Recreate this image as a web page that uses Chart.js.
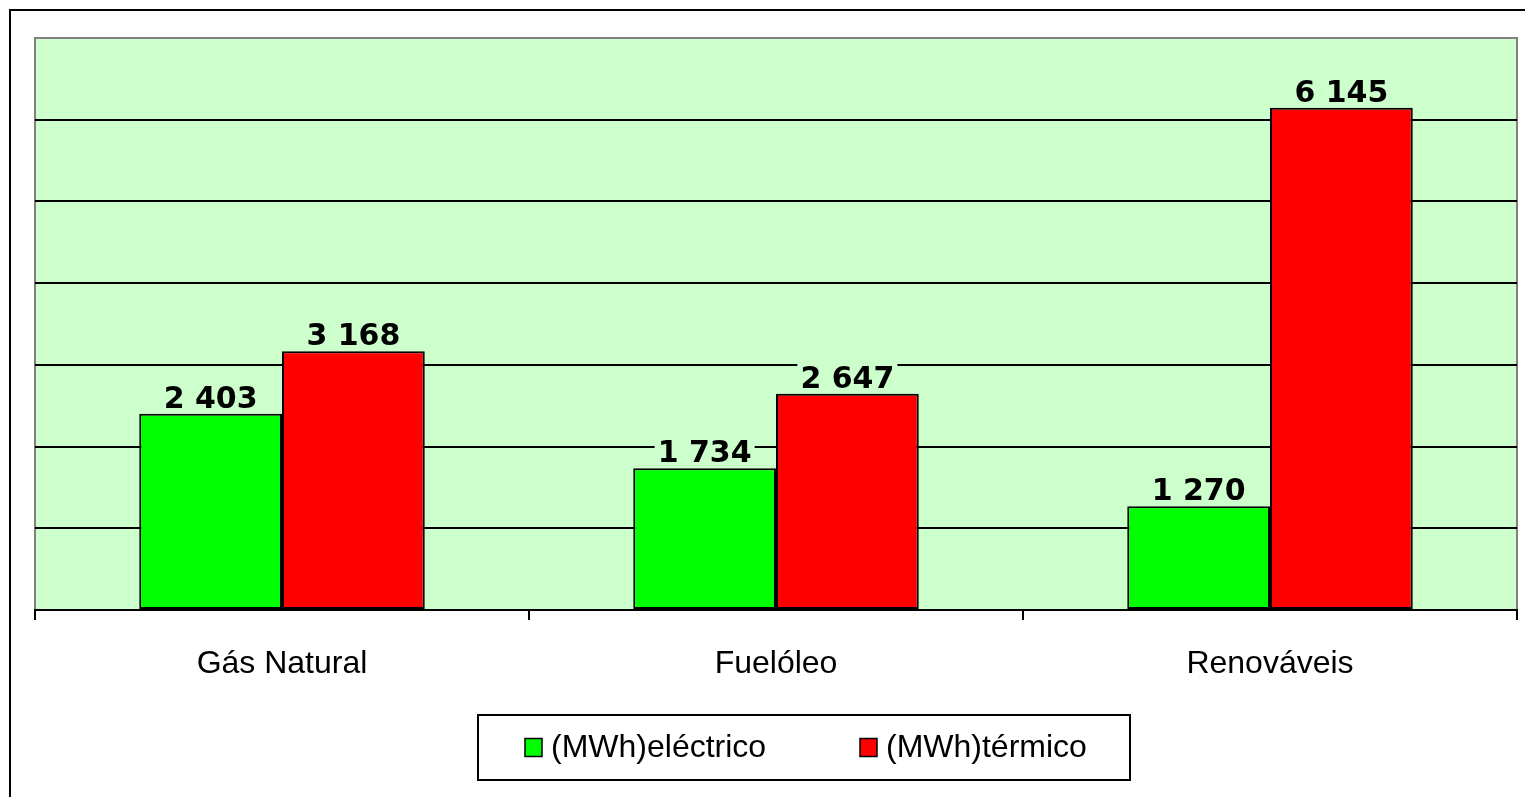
<!DOCTYPE html>
<html>
<head>
<meta charset="utf-8">
<script src="https://cdn.jsdelivr.net/npm/chart.js@4/dist/chart.umd.min.js"></script>
<style>
  html, body { margin: 0; padding: 0; background: #fff; }
  canvas { display: block; }
</style>
</head>
<body>
<canvas id="energyChart" width="1525" height="797"></canvas>
<script>
const categories = ['Gás Natural', 'Fuelóleo', 'Renováveis'];
const electrico = [2403, 1734, 1270];
const termico = [3168, 2647, 6145];
const seriesNames = ['(MWh)eléctrico', '(MWh)térmico'];

const PLOT_BG = '#CCFFCC';

// thousands with a space: 6145 -> "6 145"
const fmt = v => String(v).replace(/\B(?=(\d{3})+(?!\d))/g, ' ');

// outer frame + plot background
const frame = {
    id: 'frame',
    beforeDraw(chart) {
        const { ctx, chartArea: a } = chart;
        ctx.save();
        ctx.fillStyle = '#fff';
        ctx.fillRect(0, 0, chart.width, chart.height);
        ctx.strokeStyle = '#000';
        ctx.lineWidth = 2;
        ctx.strokeRect(10, 10, chart.width + 20, chart.height + 20);
        ctx.fillStyle = PLOT_BG;
        ctx.fillRect(a.left, a.top, a.right - a.left, a.bottom - a.top);
        ctx.strokeStyle = '#808080';
        ctx.lineWidth = 2;
        ctx.strokeRect(a.left, a.top, a.right - a.left, a.bottom - a.top);
        ctx.restore();
    }
};

// value labels above each bar, on a patch of plot colour so grid lines stop at the text
const valueLabels = {
    id: 'valueLabels',
    afterDatasetsDraw(chart) {
        const ctx = chart.ctx;
        ctx.save();
        ctx.font = 'bold 30px "DejaVu Sans"';
        ctx.textAlign = 'center';
        ctx.textBaseline = 'alphabetic';
        chart.data.datasets.forEach((ds, i) => {
            chart.getDatasetMeta(i).data.forEach((bar, j) => {
                const txt = fmt(ds.data[j]);
                const w = ctx.measureText(txt).width;
                const base = bar.y - 6;
                ctx.fillStyle = PLOT_BG;
                ctx.fillRect(bar.x - w / 2 - 3, base - 26, w + 6, 30);
                ctx.fillStyle = '#000';
                ctx.fillText(txt, bar.x, base);
            });
        });
        ctx.restore();
    }
};

// boxed legend under the axis
const boxLegend = {
    id: 'boxLegend',
    afterDraw(chart) {
        const ctx = chart.ctx;
        const box = { x: 478, y: 715, w: 652, h: 65 };
        const offsets = [47, 382];
        ctx.save();
        ctx.fillStyle = '#fff';
        ctx.fillRect(box.x, box.y, box.w, box.h);
        ctx.strokeStyle = '#000';
        ctx.lineWidth = 2;
        ctx.strokeRect(box.x, box.y, box.w, box.h);
        ctx.font = '32px "Liberation Sans"';
        ctx.textBaseline = 'middle';
        ctx.textAlign = 'left';
        const cy = box.y + box.h / 2;
        chart.data.datasets.forEach((ds, i) => {
            const x = box.x + offsets[i];
            ctx.fillStyle = ds.backgroundColor;
            ctx.fillRect(x, cy - 9, 17, 18);
            ctx.lineWidth = 1.5;
            ctx.strokeStyle = '#000';
            ctx.strokeRect(x, cy - 9, 17, 18);
            ctx.fillStyle = '#000';
            ctx.fillText(ds.label, x + 26, cy + 1);
        });
        ctx.restore();
    }
};

new Chart(document.getElementById('energyChart').getContext('2d'), {
    type: 'bar',
    data: {
        labels: categories,
        datasets: [{
            label: seriesNames[0],
            data: electrico,
            backgroundColor: '#00FF00',
            borderColor: '#000',
            borderWidth: 2,
            borderSkipped: false
        }, {
            label: seriesNames[1],
            data: termico,
            backgroundColor: '#FF0000',
            borderColor: '#000',
            borderWidth: 2,
            borderSkipped: false
        }]
    },
    options: {
        responsive: false,
        animation: false,
        devicePixelRatio: 1,
        layout: { padding: { left: 35, right: 8, top: 38, bottom: 0 } },
        datasets: { bar: { categoryPercentage: 0.578, barPercentage: 1 } },
        plugins: {
            legend: { display: false },
            tooltip: { enabled: false }
        },
        scales: {
            x: {
                grid: {
                    drawOnChartArea: false,
                    color: '#000',
                    lineWidth: 2,
                    tickLength: 10
                },
                border: { color: '#000', width: 2 },
                ticks: {
                    color: '#000',
                    padding: 25,
                    font: { family: '"Liberation Sans"', size: 32 }
                },
                afterFit: s => { s.height = 187; }
            },
            y: {
                min: 0,
                max: 7000,
                ticks: { display: false, stepSize: 1000 },
                grid: {
                    color: c => c.tick && c.tick.value === 7000 ? '#808080' : '#000',
                    lineWidth: 2,
                    tickLength: 0
                },
                border: { display: false },
                afterFit: s => { s.width = 0; }
            }
        }
    },
    plugins: [frame, valueLabels, boxLegend]
});
</script>
</body>
</html>
